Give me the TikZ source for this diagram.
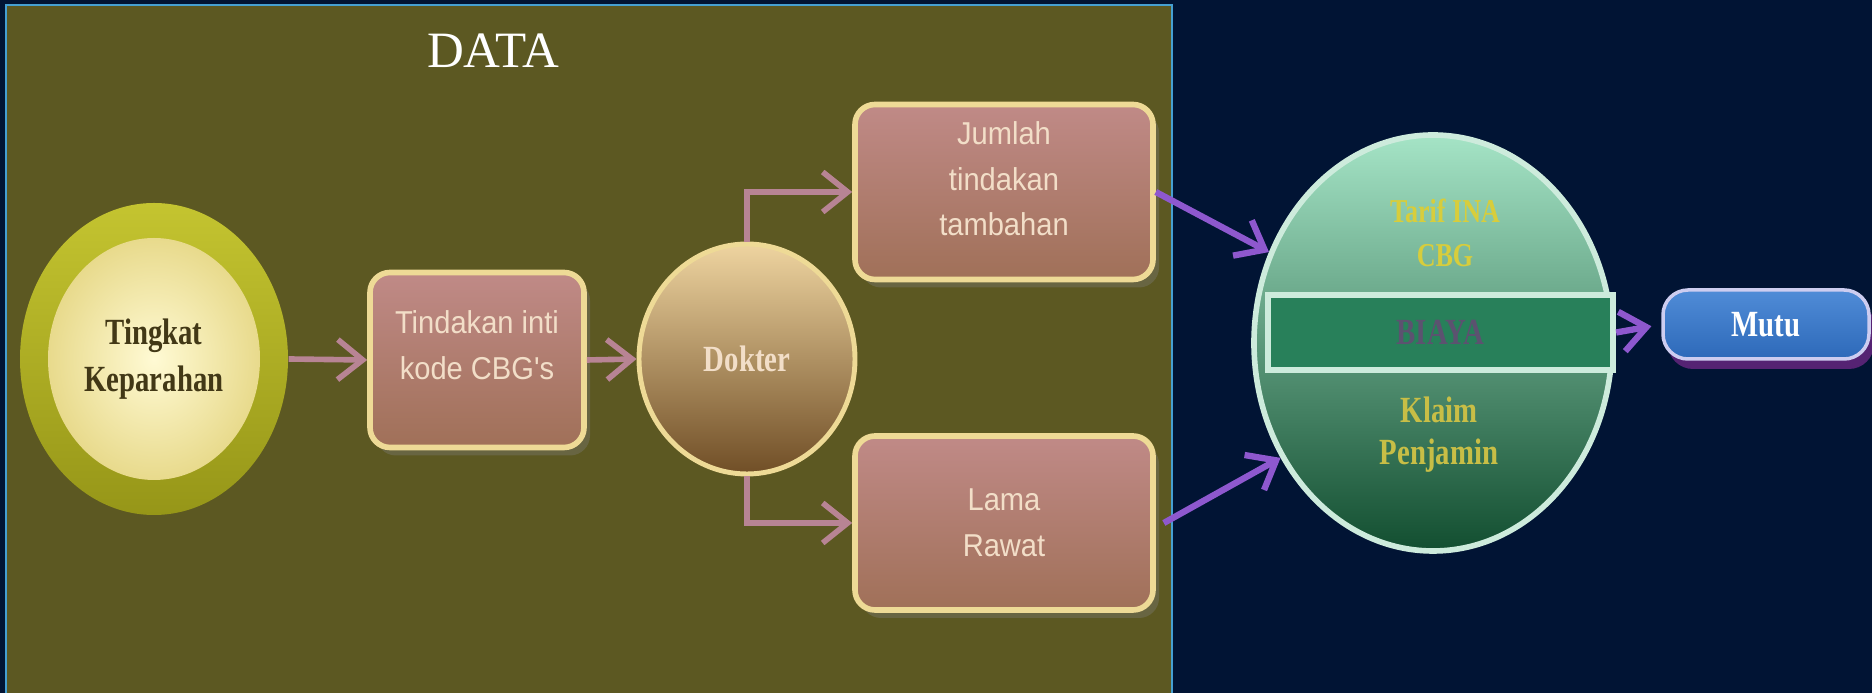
\documentclass[tikz,border=0pt]{standalone}
\usepackage{fontspec}
\setmainfont{Liberation Serif}
\setsansfont{Liberation Sans}
\newfontfamily\sempitserif[FakeStretch=0.78]{Liberation Serif}
\newfontfamily\sempitsans[FakeStretch=0.92]{Liberation Sans}
\usetikzlibrary{arrows.meta,shapes.geometric,shadows}

\definecolor{latar}{RGB}{1,20,52}
\definecolor{zaitun}{RGB}{92,88,34}
\definecolor{garisbiru}{RGB}{70,160,210}
\definecolor{krem}{RGB}{238,218,150}
\definecolor{rosatas}{RGB}{192,138,135}
\definecolor{rosbawah}{RGB}{160,112,88}
\definecolor{teksbox}{RGB}{242,222,200}
\definecolor{mauve}{RGB}{184,132,148}
\definecolor{dokatas}{RGB}{238,212,160}
\definecolor{dokbawah}{RGB}{112,78,38}
\definecolor{cincinatas}{RGB}{196,196,48}
\definecolor{cincinbawah}{RGB}{150,150,24}
\definecolor{telurdalam}{RGB}{255,250,212}
\definecolor{telurluar}{RGB}{232,218,140}
\definecolor{tekstelur}{RGB}{66,56,22}
\definecolor{ungu}{RGB}{142,88,206}
\definecolor{hijauatas}{RGB}{165,228,198}
\definecolor{hijautengah}{RGB}{60,150,110}
\definecolor{hijaubawah}{RGB}{18,78,48}
\definecolor{tepihijau}{RGB}{205,235,220}
\definecolor{isibiaya}{RGB}{40,128,90}
\definecolor{tekstarif}{RGB}{215,205,60}
\definecolor{teksbiaya}{RGB}{92,82,112}
\definecolor{teksklaim}{RGB}{200,190,70}
\definecolor{mutuatas}{RGB}{80,140,215}
\definecolor{mutubawah}{RGB}{45,105,185}
\definecolor{tepimutu}{RGB}{205,205,240}
\definecolor{bayangmutu}{RGB}{85,35,115}

\tikzset{
  kotak/.style={draw=krem, line width=1.6pt, rounded corners=2mm,
    top color=rosatas, bottom color=rosbawah,
    drop shadow={opacity=0.35, shadow xshift=0.6mm, shadow yshift=-0.8mm}},
  isikotak/.style={align=center, text=teksbox,
    font=\sempitsans\fontsize{9}{13}\selectfont},
  panah/.style={draw=mauve, line width=1.6pt,
    -{Straight Barb[length=2.5mm,width=4mm]}},
  panahungu/.style={draw=ungu, line width=1.8pt,
    -{Straight Barb[length=2.5mm,width=4mm]}},
  tebal/.style={font=\sempitserif\bfseries\fontsize{10.5}{13.5}\selectfont}
}

\begin{document}
\begin{tikzpicture}
  \useasboundingbox (0,0) rectangle (18.72,6.93);
  \fill[latar] (0,0) rectangle (18.72,6.93);
  \draw[garisbiru, line width=0.7pt, fill=zaitun] (0.06,-0.1) rectangle (11.72,6.88);

  \node[font=\fontsize{14.5}{16}\selectfont, text=white] (data) at (4.93,6.42) {DATA};

  % tingkat keparahan
  \node[ellipse, minimum width=2.68cm, minimum height=3.12cm,
        top color=cincinatas, bottom color=cincinbawah] (cincin) at (1.54,3.34) {};
  \node[ellipse, inner sep=0pt, minimum width=2.12cm, minimum height=2.42cm,
        inner color=telurdalam, outer color=telurluar,
        tebal, text=tekstelur, align=center] (tingkat) at (1.54,3.34)
        {Tingkat\\Keparahan};

  \node[kotak, minimum width=2.14cm, minimum height=1.75cm] (kode) at (4.77,3.33) {};
  \node[isikotak] (kodeteks) at ([yshift=1.5mm]kode.center) {Tindakan inti\\kode CBG's};

  \node[ellipse, draw=krem, line width=1.4pt, minimum width=2.16cm, minimum height=2.3cm,
        top color=dokatas, bottom color=dokbawah,
        tebal, font=\sempitserif\bfseries\fontsize{10.5}{12}\selectfont,
        text=teksbox] (dokter) at (7.47,3.34) {Dokter};

  \node[kotak, minimum width=2.98cm, minimum height=1.75cm] (jumlah) at (10.04,5.01) {};
  \node[isikotak] (jumlahteks) at ([yshift=1.3mm]jumlah.center) {Jumlah\\tindakan\\tambahan};

  \node[kotak, minimum width=2.98cm, minimum height=1.74cm] (lama) at (10.04,1.7) {};
  \node[isikotak] (lamateks) at (lama.center) {Lama\\Rawat};

  \draw[panah] (cincin.east) -- (kode.west);
  \draw[panah] (kode.east) -- (dokter.west);
  \draw[panah] (dokter.north) |- (jumlah.west);
  \draw[panah] (dokter.south) |- (lama.west);

  % biaya
  \node[ellipse, draw=tepihijau, line width=1.6pt, minimum width=3.58cm, minimum height=4.16cm,
        top color=hijauatas, middle color=hijautengah, bottom color=hijaubawah] (bulat) at (14.33,3.5) {};
  \node[tebal, font=\sempitserif\bfseries\fontsize{9.5}{12.5}\selectfont,
        text=tekstarif, align=center] (tarif) at (14.45,4.6) {Tarif INA\\CBG};
  \node[draw=tepihijau, line width=1.8pt, fill=isibiaya, minimum width=3.45cm, minimum height=0.75cm,
        tebal, text=teksbiaya] (biaya) at (14.405,3.605) {BIAYA};
  \node[tebal, font=\sempitserif\bfseries\fontsize{10.5}{12}\selectfont,
        text=teksklaim, align=center] (klaim) at (14.39,2.58) {Klaim\\Penjamin};

  \node[draw=tepimutu, line width=1pt, rounded corners=2.5mm,
        top color=mutuatas, bottom color=mutubawah,
        minimum width=2.06cm, minimum height=0.69cm,
        drop shadow={fill=bayangmutu, opacity=1, shadow xshift=0.5mm, shadow yshift=-1mm},
        tebal, text=white] (mutu) at (17.66,3.685) {Mutu};

  \draw[panahungu] (jumlah.east) -- (bulat.151);
  \draw[panahungu] ([xshift=0.8mm]lama.east) -- (bulat.217);
  \draw[panahungu, shorten >=1mm] (biaya.east) -- (mutu.west);
\end{tikzpicture}
\end{document}
